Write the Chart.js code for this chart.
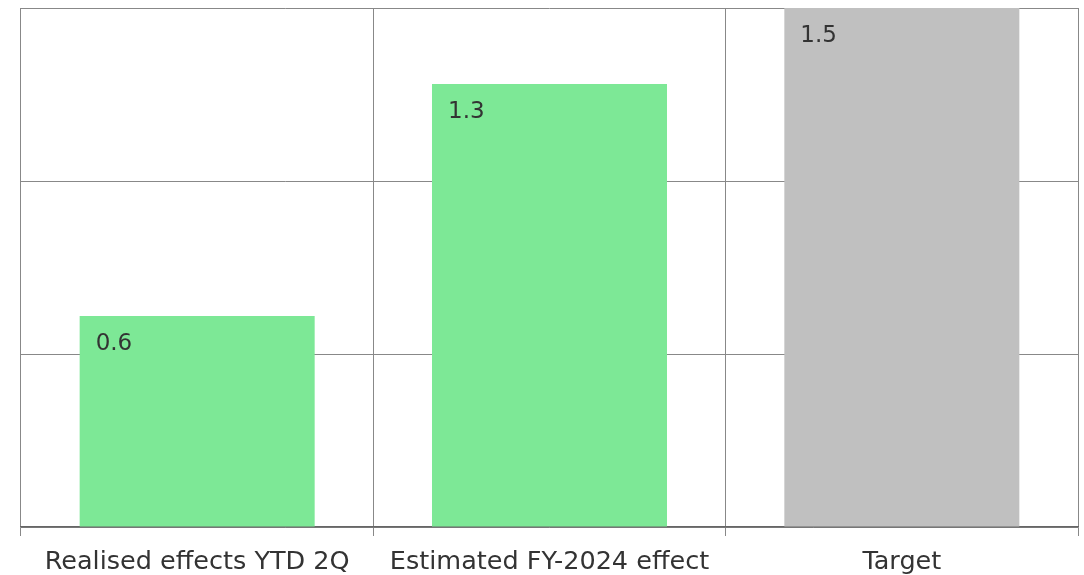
<!DOCTYPE html>
<html>
<head>
<meta charset="utf-8">
<script src="https://cdn.jsdelivr.net/npm/chart.js@4"></script>
<style>
  html, body { margin: 0; padding: 0; background: #fff; }
  #wrap { width: 1084px; height: 575px; }
</style>
</head>
<body>
<div id="wrap"><canvas id="effects"></canvas></div>
<script>
var categories = ["Realised effects YTD 2Q", "Estimated FY-2024 effect", "Target"];
var values = [0.61, 1.28, 1.5];
var barColors = ["#7de896", "#7de896", "#c0c0c0"];

// value label in the top-left corner of each bar
var barLabels = {
  id: "barLabels",
  afterDatasetsDraw: function(chart) {
    var ctx = chart.ctx;
    var meta = chart.getDatasetMeta(0);
    ctx.save();
    ctx.font = "23px 'DejaVu Sans', sans-serif";
    ctx.fillStyle = "#333";
    ctx.textAlign = "left";
    ctx.textBaseline = "middle";
    meta.data.forEach(function(bar, i) {
      var left = bar.x - bar.width / 2;
      ctx.fillText(values[i].toFixed(1), left + 16, bar.y + 28);
    });
    ctx.restore();
  }
};

new Chart("effects", {
  type: "bar",
  data: {
    labels: categories,
    datasets: [{
      data: values,
      backgroundColor: barColors,
      borderWidth: 0,
      categoryPercentage: 1,
      barPercentage: 0.667
    }]
  },
  plugins: [barLabels],
  options: {
    responsive: true,
    maintainAspectRatio: false,
    animation: false,
    layout: { padding: { left: 21, right: 6, top: 8, bottom: 0 } },
    plugins: { legend: { display: false }, tooltip: { enabled: false } },
    scales: {
      x: {
        afterFit: function(scale) { scale.height = 48; },
        grid: { offset: true, color: "#888", lineWidth: 1, tickLength: 9 },
        border: { color: "#666", width: 1.5 },
        ticks: {
          color: "#333",
          padding: 14,
          font: { family: "'DejaVu Sans', sans-serif", size: 25.5, lineHeight: 1 }
        }
      },
      y: {
        min: 0,
        max: 1.5,
        ticks: { display: false, stepSize: 0.5 },
        grid: { color: "#888", drawTicks: false },
        border: { display: false }
      }
    }
  }
});
</script>
</body>
</html>
